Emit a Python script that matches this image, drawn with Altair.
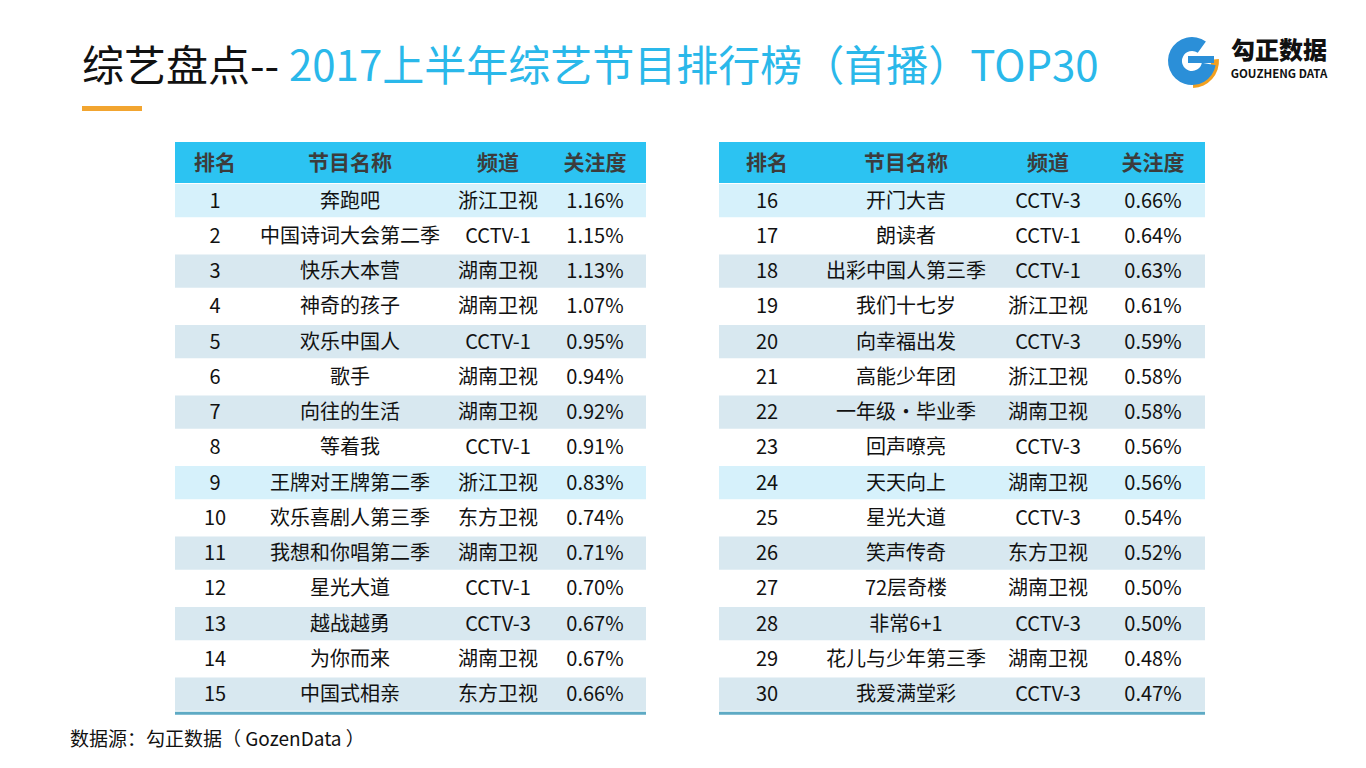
import altair as alt
import pandas as pd

# ---------------- data ----------------
ranks = list(range(1, 31))
names = ["奔跑吧", "中国诗词大会第二季", "快乐大本营", "神奇的孩子", "欢乐中国人", "歌手",
         "向往的生活", "等着我", "王牌对王牌第二季", "欢乐喜剧人第三季", "我想和你唱第二季",
         "星光大道", "越战越勇", "为你而来", "中国式相亲",
         "开门大吉", "朗读者", "出彩中国人第三季", "我们十七岁", "向幸福出发", "高能少年团",
         "一年级·毕业季", "回声嘹亮", "天天向上", "星光大道", "笑声传奇", "72层奇楼",
         "非常6+1", "花儿与少年第三季", "我爱满堂彩"]
channels = ["浙江卫视", "CCTV-1", "湖南卫视", "湖南卫视", "CCTV-1", "湖南卫视", "湖南卫视",
            "CCTV-1", "浙江卫视", "东方卫视", "湖南卫视", "CCTV-1", "CCTV-3", "湖南卫视",
            "东方卫视",
            "CCTV-3", "CCTV-1", "CCTV-1", "浙江卫视", "CCTV-3", "浙江卫视", "湖南卫视",
            "CCTV-3", "湖南卫视", "CCTV-3", "东方卫视", "湖南卫视", "CCTV-3", "湖南卫视",
            "CCTV-3"]
attention = [1.16, 1.15, 1.13, 1.07, 0.95, 0.94, 0.92, 0.91, 0.83, 0.74, 0.71, 0.70, 0.67,
             0.67, 0.66,
             0.66, 0.64, 0.63, 0.61, 0.59, 0.58, 0.58, 0.56, 0.56, 0.54, 0.52, 0.50, 0.50,
             0.48, 0.47]
headers = ["排名", "节目名称", "频道", "关注度"]
title_black = "综艺盘点--"
title_blue = "2017上半年综艺节目排行榜（首播）TOP30"
source_text = "数据源：勾正数据（ GozenData ）"
logo_cn = "勾正数据"
logo_en = "GOUZHENG DATA"

# ---------------- layout (screen pixels) ----------------
W, H = 1366, 768
MARGIN = 8
ROWS_PER_TABLE = 15
TABLE_X = {0: (175, 646), 1: (719, 1205)}
COL_CENTERS = {0: [215, 350, 498, 595], 1: [767, 906, 1048, 1153]}
HEADER_TOP, ROW_TOP, ROW_H = 142, 183, 35.25
FONT = "Noto Sans CJK SC"

# ---------------- build tables ----------------
row_recs, cell_recs = [], []
for r, n, c, v in zip(ranks, names, channels, attention):
    t = (r - 1) // ROWS_PER_TABLE
    s = (r - 1) % ROWS_PER_TABLE
    y0 = ROW_TOP + s * ROW_H
    x0, x1 = TABLE_X[t]
    if s % 2 == 0:
        band = "cyan" if s % 8 == 0 else "grey"
        row_recs.append(dict(x0=x0, x1=x1, y0=y0 + 1, y1=y0 + ROW_H - 1, band=band))
    for ci, txt in enumerate([str(r), n, c, f"{v:.2f}%"]):
        cell_recs.append(dict(x=COL_CENTERS[t][ci], y=y0 + ROW_H / 2 + 1, text=txt))
rows_df = pd.DataFrame(row_recs)
cells_df = pd.DataFrame(cell_recs)

head_rect_df = pd.DataFrame([dict(x0=TABLE_X[t][0], x1=TABLE_X[t][1], y0=HEADER_TOP,
                                  y1=ROW_TOP) for t in (0, 1)])
head_txt_df = pd.DataFrame([dict(x=COL_CENTERS[t][i], y=(HEADER_TOP + ROW_TOP) / 2 + 1,
                                 text=h) for t in (0, 1) for i, h in enumerate(headers)])
bottom_y = ROW_TOP + ROWS_PER_TABLE * ROW_H + 1.5
bottom_df = pd.DataFrame([dict(x0=TABLE_X[t][0], x1=TABLE_X[t][1], y=bottom_y) for t in (0, 1)])

xs = alt.Scale(domain=[MARGIN, W - MARGIN], range=[0, W - 2 * MARGIN], nice=False, zero=False)
ys = alt.Scale(domain=[MARGIN, H - MARGIN], range=[0, H - 2 * MARGIN], nice=False, zero=False)


def X(f):
    return alt.X(f, type="quantitative", scale=xs, axis=None)


def Y(f):
    return alt.Y(f, type="quantitative", scale=ys, axis=None)


def rect(df, color):
    return alt.Chart(df).mark_rect(color=color).encode(x=X("x0"), x2="x1", y=Y("y0"), y2="y1")


band_cyan = rect(rows_df[rows_df.band == "cyan"], "#d6f1fb")
band_grey = rect(rows_df[rows_df.band == "grey"], "#d8e8f0")
head_rects = rect(head_rect_df, "#2cc3f2")

head_text = alt.Chart(head_txt_df).mark_text(
    font=FONT, fontSize=21, fontWeight="bold", color="#3c3c3c", baseline="middle",
    align="center").encode(x=X("x"), y=Y("y"), text="text:N")

cell_text = alt.Chart(cells_df).mark_text(
    font=FONT, fontSize=20, color="#111111", baseline="middle", align="center").encode(
    x=X("x"), y=Y("y"), text="text:N")

bottom_lines = alt.Chart(bottom_df).mark_rule(color="#5eaac4", strokeWidth=3).encode(
    x=X("x0"), x2="x1", y=Y("y"))

# title
title_b = alt.Chart(pd.DataFrame([dict(x=82, y=68, text=title_black)])).mark_text(
    font=FONT, fontSize=42, align="left", baseline="middle", color="#111111").encode(
    x=X("x"), y=Y("y"), text="text:N")
title_c = alt.Chart(pd.DataFrame([dict(x=289, y=68, text=title_blue)])).mark_text(
    font=FONT, fontSize=42, align="left", baseline="middle", color="#2ab8ea").encode(
    x=X("x"), y=Y("y"), text="text:N")
underline = rect(pd.DataFrame([dict(x0=82, x1=142, y0=106, y1=111)]), "#f2a530")

# footer
footer = alt.Chart(pd.DataFrame([dict(x=70, y=740, text=source_text)])).mark_text(
    font=FONT, fontSize=19, align="left", baseline="middle", color="#111111").encode(
    x=X("x"), y=Y("y"), text="text:N")

# logo
logo_pt = pd.DataFrame([dict(x=1192, y=61)])
logo_blue = alt.Chart(logo_pt).mark_arc(theta=1.75, theta2=6.9, radius=24, radius2=10,
                                        color="#2b8fd8").encode(x=X("x"), y=Y("y"))
logo_bar = rect(pd.DataFrame([dict(x0=1188, x1=1214, y0=56, y1=63)]), "#2b8fd8")
logo_orange = alt.Chart(logo_pt).mark_arc(theta=1.5, theta2=3.1, radius=27, radius2=19,
                                          color="#f2a020").encode(x=X("x"), y=Y("y"))
logo_cn_txt = alt.Chart(pd.DataFrame([dict(x=1279, y=52, text=logo_cn)])).mark_text(
    font=FONT, fontSize=24, fontWeight=900, align="center", baseline="middle",
    color="#111111").encode(x=X("x"), y=Y("y"), text="text:N")
logo_en_txt = alt.Chart(pd.DataFrame([dict(x=1279, y=75, text=logo_en)])).mark_text(
    font=FONT, fontSize=11.5, fontWeight="bold", align="center", baseline="middle",
    color="#111111").encode(x=X("x"), y=Y("y"), text="text:N")

chart = alt.layer(
    head_rects, band_cyan, band_grey, bottom_lines, head_text, cell_text,
    title_b, title_c, underline, footer, logo_orange, logo_blue, logo_bar,
    logo_cn_txt, logo_en_txt
).properties(
    width=W - 2 * MARGIN, height=H - 2 * MARGIN, padding=0,
    autosize=alt.AutoSizeParams(type="none"), background="white"
).configure_view(stroke=None)

chart.save("out.html", embed_options={"renderer": "svg", "actions": False})
